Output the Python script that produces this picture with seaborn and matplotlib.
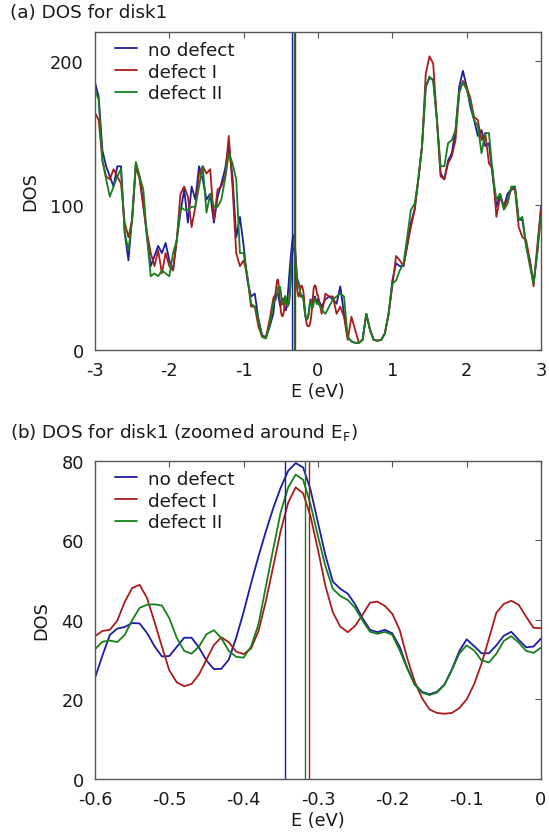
import numpy as np
import pandas as pd
import matplotlib
matplotlib.use("Agg")
import matplotlib.pyplot as plt
import seaborn as sns

# ---- data: zoomed window around E_F (step 0.01 eV) ----
e_zoom = np.round(np.arange(-0.60, 0.001, 0.01), 2)
nodef_zoom = [25.4, 31.0, 36.2, 37.8, 38.2, 39.2, 39.1, 36.7, 33.4, 30.8,
              30.9, 33.2, 35.5, 35.5, 33.0, 29.8, 27.6, 27.7, 30.0, 35.5,
              42.0, 49.2, 56.0, 62.3, 68.2, 73.3, 77.5, 79.4, 78.3, 72.7,
              64.4, 56.2, 49.6, 47.8, 46.6, 43.9, 40.4, 37.5, 36.9, 37.5,
              36.6, 33.2, 28.0, 23.9, 21.9, 21.3, 21.9, 23.7, 27.5, 32.1,
              35.1, 33.4, 31.6, 31.6, 33.6, 36.0, 37.0, 35.0, 33.1, 33.3, 35.3]
defI_zoom = [35.9, 37.2, 37.5, 39.8, 44.5, 48.0, 48.8, 45.5, 39.5, 33.3,
             27.3, 24.3, 23.3, 23.9, 26.3, 30.0, 33.7, 35.6, 34.4, 32.0,
             31.4, 32.8, 37.2, 44.8, 53.6, 62.5, 69.5, 73.3, 71.8, 66.0,
             57.6, 48.5, 41.9, 38.3, 36.9, 38.5, 41.3, 44.3, 44.6, 43.5,
             41.5, 37.4, 30.4, 24.5, 20.3, 17.5, 16.6, 16.4, 16.6, 17.8,
             20.0, 23.8, 29.0, 35.3, 41.8, 44.0, 44.8, 43.8, 40.8, 38.0, 37.9]
defII_zoom = [32.6, 34.5, 34.8, 34.4, 36.2, 39.9, 43.0, 43.8, 43.9, 43.6,
              40.4, 35.5, 32.2, 31.5, 33.3, 36.4, 37.4, 35.4, 32.2, 30.7,
              30.5, 33.3, 38.9, 48.5, 58.0, 67.2, 73.3, 76.5, 75.2, 69.0,
              61.0, 53.5, 47.8, 46.0, 45.0, 43.0, 39.8, 37.0, 36.5, 37.0,
              36.2, 32.3, 27.8, 23.7, 21.7, 21.1, 21.7, 23.6, 27.3, 31.5,
              33.6, 32.3, 29.8, 29.3, 31.5, 34.7, 35.9, 34.3, 32.2, 31.7, 33.0]

# ---- data: wide range outside the zoom window (step 0.05 eV) ----
e_low = np.round(np.arange(-3.0, -0.649, 0.05), 2)
nodef_low = [185, 175, 138, 127, 120, 113, 127, 127, 81, 62, 92, 129, 120, 101,
             78, 58, 65, 72, 67, 74, 62, 55, 76, 95, 111, 88, 113, 104, 127, 118,
             104, 108, 88, 106, 115, 125, 141, 120, 78, 92, 72, 48, 37, 39, 21,
             10, 9, 16]
defI_low = [164, 159, 131, 120, 118, 125, 120, 115, 88, 78, 90, 127, 118, 99,
            81, 67, 58, 69, 53, 67, 58, 55, 76, 108, 113, 106, 85, 99, 122, 127,
            122, 125, 90, 111, 113, 120, 148, 113, 67, 58, 62, 51, 30, 30, 16,
            9, 9, 21]
defII_low = [180, 173, 131, 118, 106, 113, 120, 125, 81, 69, 90, 130, 120, 111,
             78, 51, 53, 51, 55, 53, 51, 67, 76, 99, 97, 97, 99, 99, 113, 127,
             95, 108, 99, 99, 104, 118, 136, 129, 118, 67, 67, 51, 32, 30, 21,
             9, 8, 17]

e_high = np.round(np.arange(0.05, 3.001, 0.05), 2)
nodef_high = [30, 35, 37, 35, 32, 44, 25, 9, 6, 5, 5, 7, 25, 14, 7, 6.5, 7, 11.5,
              25, 48, 60, 58, 58, 72, 88, 97, 118, 141, 182, 188, 187, 159, 122,
              118, 131, 136, 152, 182, 193, 182, 168, 159, 148, 152, 141, 143,
              120, 99, 108, 99, 108, 111, 113, 90, 90, 72, 62, 46, 67, 99]
defI_high = [25, 39, 37, 37, 25, 30, 23, 7, 23, 14, 5, 7, 25, 14, 7, 6.5, 7, 11.5,
             25, 44, 65, 62, 58, 72, 85, 97, 118, 141, 191, 203, 198, 159, 120,
             118, 129, 134, 145, 178, 186, 182, 174, 161, 159, 145, 150, 129,
             125, 92, 106, 99, 104, 111, 111, 85, 78, 76, 62, 44, 72, 97]
defII_high = [28, 25, 30, 35, 37, 39, 37, 9, 6, 5, 5, 7, 25, 14, 7, 6.5, 7, 11.5,
              25, 46, 48, 55, 60, 78, 97, 101, 118, 141, 182, 189, 186, 159, 127,
              127, 143, 145, 152, 178, 185, 180, 171, 159, 155, 136, 150, 150,
              122, 104, 108, 97, 101, 113, 113, 90, 92, 72, 58, 46, 67, 92]

# Fermi levels
ef_nodef = -0.345
ef_defI = -0.312
ef_defII = -0.317

labels = ["no defect", "defect I", "defect II"]
colors = {"no defect": "#1c1ca6", "defect I": "#aa1c1c", "defect II": "#17801a"}

sns.set_style("white")
plt.rcParams["font.family"] = ["DejaVu Sans"]
plt.rcParams["mathtext.fontset"] = "dejavusans"
plt.rcParams["text.color"] = "#1a1a1a"
plt.rcParams["axes.labelcolor"] = "#1a1a1a"
plt.rcParams["xtick.labelcolor"] = "#1a1a1a"
plt.rcParams["ytick.labelcolor"] = "#1a1a1a"


def long_frame(e, series):
    parts = []
    for lab, vals in zip(labels, series):
        parts.append(pd.DataFrame({"E": e, "DOS": vals, "case": lab}))
    return pd.concat(parts, ignore_index=True)


e_full = np.concatenate([e_low, e_zoom, e_high])
full = long_frame(e_full, [
    np.concatenate([nodef_low, nodef_zoom, nodef_high]),
    np.concatenate([defI_low, defI_zoom, defI_high]),
    np.concatenate([defII_low, defII_zoom, defII_high]),
])
zoom = long_frame(e_zoom, [nodef_zoom, defI_zoom, defII_zoom])

fig = plt.figure(figsize=(5.49, 8.37), dpi=100)
ax1 = fig.add_axes([0.173, 0.5806, 0.8124, 0.3803])
ax2 = fig.add_axes([0.173, 0.0681, 0.8124, 0.3803])


def style_axes(ax):
    for sp in ax.spines.values():
        sp.set_color("#555555")
        sp.set_linewidth(1.0)
    ax.tick_params(direction="in", length=4, width=0.8, color="#555555",
                   top=True, right=True, labelsize=12.8, pad=8)
    ax.set_xlabel("E (eV)", fontsize=12.8, labelpad=2)
    ax.set_ylabel("DOS", fontsize=12.8, labelpad=8)


for ax, df, xlim, ylim, xt, yt in [
        (ax1, full, (-3, 3), (0, 220), [-3, -2, -1, 0, 1, 2, 3], [0, 100, 200]),
        (ax2, zoom, (-0.6, 0), (0, 80), [-0.6, -0.5, -0.4, -0.3, -0.2, -0.1, 0],
         [0, 20, 40, 60, 80])]:
    sns.lineplot(data=df, x="E", y="DOS", hue="case", palette=colors,
                 estimator=None, linewidth=1.3, ax=ax)
    ax.axvline(ef_nodef, color=colors["no defect"], lw=1.0)
    ax.axvline(ef_defII, color=colors["defect II"], lw=1.0)
    ax.axvline(ef_defI, color=colors["defect I"], lw=1.0)
    ax.set_xlim(*xlim)
    ax.set_ylim(*ylim)
    ax.set_xticks(xt)
    ax.set_yticks(yt)
    if ax is ax2:
        ax.set_xticklabels(["-0.6", "-0.5", "-0.4", "-0.3", "-0.2", "-0.1", "0"])
    else:
        ax.set_xticklabels([str(v) for v in xt])
    style_axes(ax)
    ax.legend(loc="upper left", frameon=False, fontsize=13.2, handlelength=1.2,
              handletextpad=0.6, labelspacing=0.2, borderaxespad=0.1,
              bbox_to_anchor=(0.025, 1.0), title=None)

fig.text(10 / 549, 1 - 13 / 837, "(a) DOS for disk1", fontsize=13.2, va="center")
fig.text(10 / 549, 1 - 433 / 837, r"(b) DOS for disk1 (zoomed around E$_{\mathrm{F}}$)",
         fontsize=13.2, va="center")

fig.savefig("out.png", dpi=100)
